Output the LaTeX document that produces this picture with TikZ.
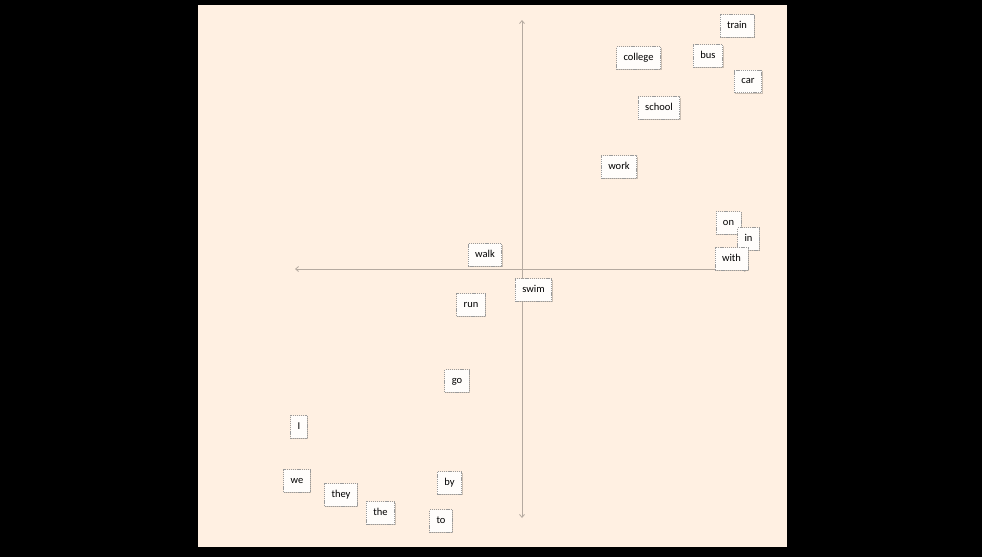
\documentclass[tikz,border=0pt]{standalone}
\usepackage{fontspec}
\setmainfont{Carlito}
\usetikzlibrary{arrows.meta,shadows}
\definecolor{peach}{HTML}{FFF0E2}
\definecolor{boxfill}{HTML}{FFFDFB}
\definecolor{boxline}{HTML}{9A9A9A}
\definecolor{axiscol}{HTML}{B5AAA0}
\tikzset{
  word/.style={draw=boxline, dash pattern=on 1.2pt off 0.9pt, line width=0.7pt,
    fill=boxfill, inner xsep=7pt, inner ysep=0pt, text height=7.2pt, text depth=2.3pt,
    minimum height=22.5pt, font=\fontsize{10.5}{10.5}\selectfont,
    drop shadow={shadow xshift=1pt, shadow yshift=-1pt, opacity=0.2, fill=black}},
  axis/.style={draw=axiscol, line width=0.8pt, {Straight Barb[length=3pt,width=5pt]}-{Straight Barb[length=3pt,width=5pt]}}
}
\begin{document}
\begin{tikzpicture}[x=1pt,y=-1pt]
\useasboundingbox (0,0) rectangle (982,557);
\fill[black] (0,0) rectangle (982,557);
\fill[peach] (198,5) rectangle (787,547);
\coordinate (vtop) at (522,20);
\coordinate (vbot) at (522,518);
\coordinate (hleft) at (295,269);
\coordinate (hright) at (748,269);
\draw[axis] (vbot) -- (vtop);
\draw[axis] (hright) -- (hleft);
\node[word] (train) at (737,26) {train};
\node[word] (bus) at (708,56) {bus};
\node[word] (car) at (748,81.5) {car};
\node[word] (college) at (638.5,58) {college};
\node[word] (school) at (659,108) {school};
\node[word] (work) at (619,167) {work};
\node[word] (on) at (728.5,223) {on};
\node[word] (in) at (748.5,239) {in};
\node[word] (with) at (731.5,259) {with};
\node[word] (walk) at (485,255) {walk};
\node[word] (swim) at (533.5,290) {swim};
\node[word] (run) at (471,305) {run};
\node[word] (go) at (457,381) {go};
\node[word] (I) at (299,427) {I};
\node[word] (we) at (297,481) {we};
\node[word] (they) at (341,495) {they};
\node[word] (the) at (380.5,513) {the};
\node[word] (by) at (449.5,483) {by};
\node[word] (to) at (441,521) {to};
\end{tikzpicture}
\end{document}
